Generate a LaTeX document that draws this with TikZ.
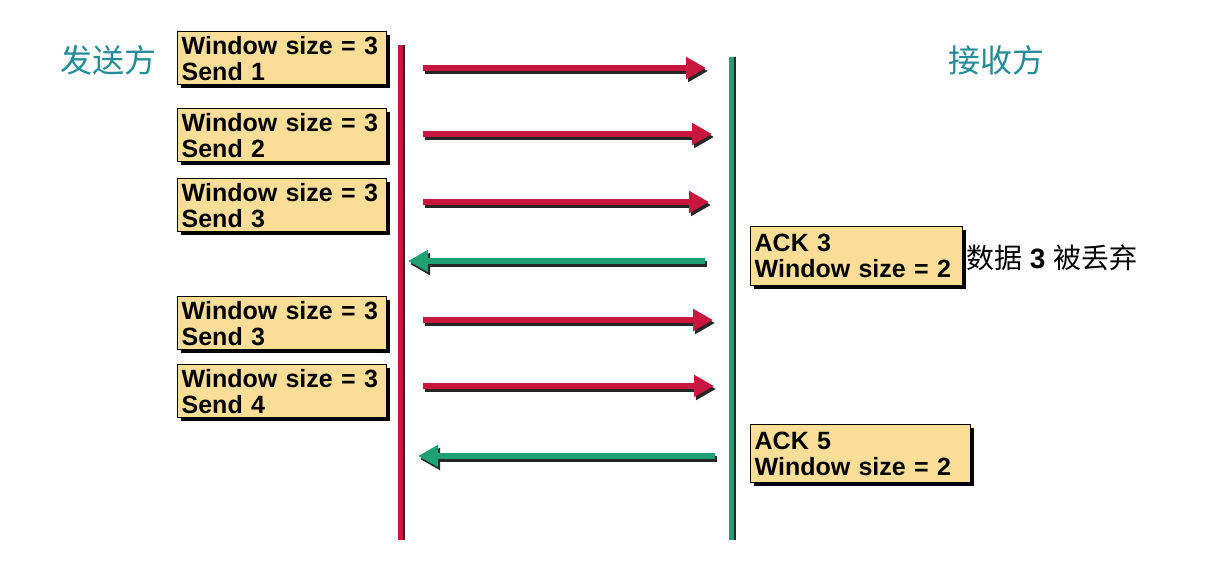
\documentclass[tikz,border=0pt]{standalone}
\usepackage{fontspec}
\setmainfont{Liberation Sans}
\newfontfamily\cjk{Noto Sans CJK SC}
\usetikzlibrary{arrows.meta,shadows}
\definecolor{boxfill}{RGB}{250,222,152}
\definecolor{sendred}{RGB}{200,22,62}
\definecolor{ackgreen}{RGB}{30,160,115}
\definecolor{titleteal}{RGB}{35,140,150}
\begin{document}
\begin{tikzpicture}[x=1pt,y=-1pt,
  msgbox/.style={draw=black,line width=1.3pt,fill=boxfill,anchor=north west,
    inner xsep=4pt,inner ysep=2pt,text width=201pt,align=left,
    minimum height=53pt,font=\bfseries\fontsize{25}{26}\selectfont,
    drop shadow={shadow xshift=3pt,shadow yshift=-3pt,fill=black,opacity=1}},
  title/.style={text=titleteal,font=\cjk\fontsize{32}{33}\selectfont,inner sep=0pt},
  lifeshadow/.style={line width=5pt,draw=black!85},
  sendline/.style={line width=5pt,draw=sendred},
  ackline/.style={line width=5pt,draw=ackgreen},
  sendarrow/.style={line width=6pt,draw=sendred,-{Triangle[length=20pt,width=21pt]}},
  ackarrow/.style={line width=6pt,draw=ackgreen,-{Triangle[length=20pt,width=21pt]}},
  arrshadow/.style={line width=6pt,draw=black!85,-{Triangle[length=20pt,width=21pt]}}
]
\useasboundingbox (0,0) rectangle (1212,572);
\fill[white] (0,0) rectangle (1212,572);

% titles
\node[title] (snd) at (108,60) {发送方};
\node[title] (rcv) at (996,60) {接收方};

% lifelines
\coordinate (st) at (400,45);
\coordinate (sb) at (400,540);
\coordinate (rt) at (731,57);
\coordinate (rb) at (731,540);
\draw[lifeshadow] ([xshift=2pt]st) -- ([xshift=2pt]sb);
\draw[sendline] (st) -- (sb);
\draw[lifeshadow] ([xshift=2pt]rt) -- ([xshift=2pt]rb);
\draw[ackline] (rt) -- (rb);

% sender boxes
\node[msgbox] (b1) at (177,31) {Window size = 3\\Send 1};
\node[msgbox] (b2) at (177,108) {Window size = 3\\Send 2};
\node[msgbox] (b3) at (177,178) {Window size = 3\\Send 3};
\node[msgbox] (b4) at (177,296) {Window size = 3\\Send 3};
\node[msgbox] (b5) at (177,364) {Window size = 3\\Send 4};

% receiver boxes
\node[msgbox,text width=204pt,minimum height=59pt] (a3) at (750,226) {ACK 3\\Window size = 2};
\node[msgbox,text width=212pt,minimum height=58pt] (a5) at (750,424) {ACK 5\\Window size = 2};

\node[anchor=west,inner sep=0pt,font=\fontsize{28}{30}\selectfont] (drop) at (966,258)
  {{\cjk 数据} \textbf{3} {\cjk 被丢弃}};

% arrow end points
\coordinate (s1a) at (423,68);  \coordinate (s1b) at (706,68);
\coordinate (s2a) at (423,134); \coordinate (s2b) at (712,134);
\coordinate (s3a) at (423,202); \coordinate (s3b) at (709,202);
\coordinate (s4a) at (423,320); \coordinate (s4b) at (713,320);
\coordinate (s5a) at (423,386); \coordinate (s5b) at (714,386);
\coordinate (k1a) at (705,261); \coordinate (k1b) at (408,261);
\coordinate (k2a) at (715,456); \coordinate (k2b) at (418,456);

% shadows
\foreach \a/\b in {s1a/s1b,s2a/s2b,s3a/s3b,s4a/s4b,s5a/s5b,k1a/k1b,k2a/k2b}
  \draw[arrshadow] ([shift={(2pt,-3pt)}]\a) -- ([shift={(2pt,-3pt)}]\b);

% arrows
\draw[sendarrow] (s1a) -- (s1b);
\draw[sendarrow] (s2a) -- (s2b);
\draw[sendarrow] (s3a) -- (s3b);
\draw[sendarrow] (s4a) -- (s4b);
\draw[sendarrow] (s5a) -- (s5b);
\draw[ackarrow] (k1a) -- (k1b);
\draw[ackarrow] (k2a) -- (k2b);
\end{tikzpicture}
\end{document}
